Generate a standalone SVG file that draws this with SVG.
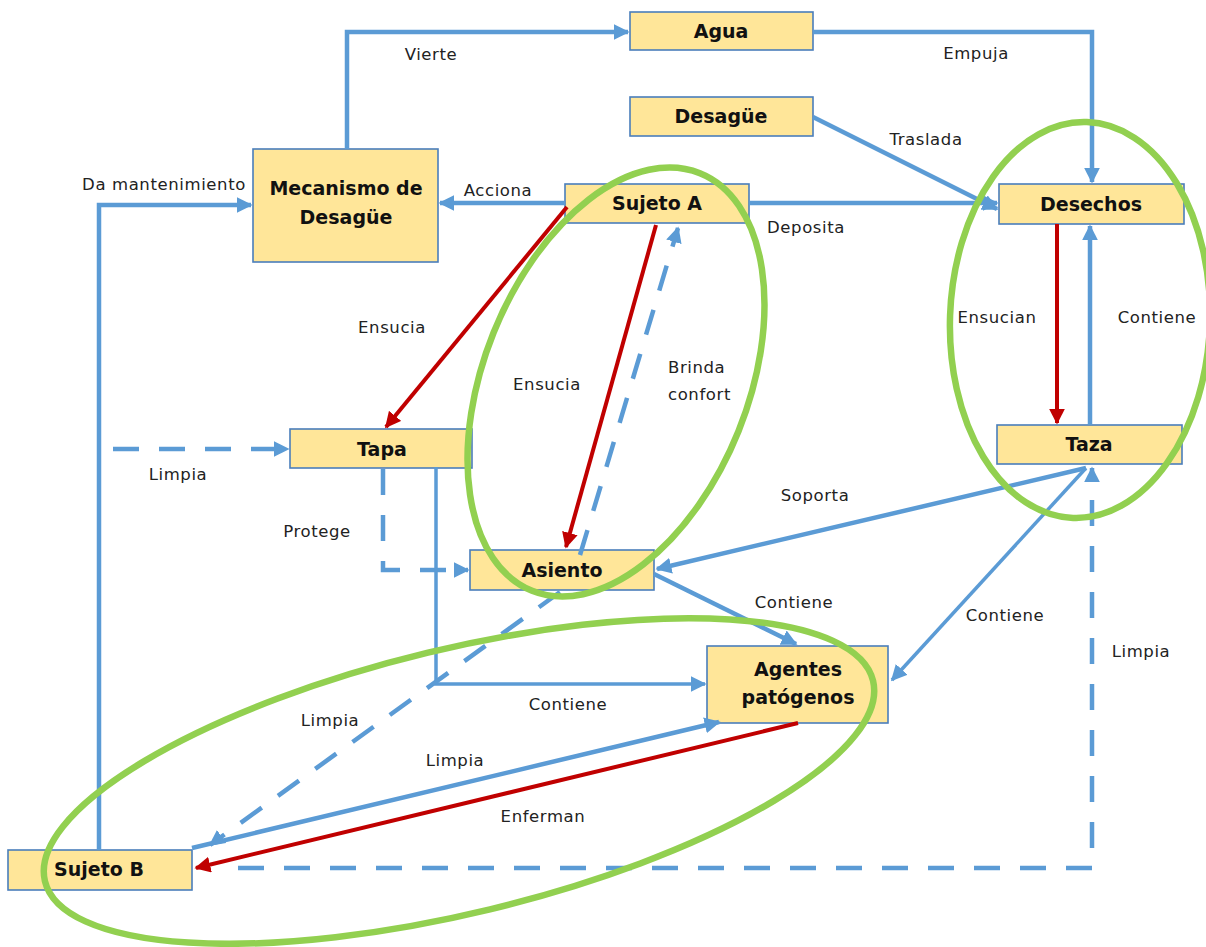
<svg xmlns="http://www.w3.org/2000/svg" width="1206" height="947" viewBox="0 0 1206 947">
<style>
.node rect{fill:#FFE699;stroke:#4A7EBB;stroke-width:1.6}
.nt{font-family:"DejaVu Sans","Liberation Sans",sans-serif;font-weight:bold;font-size:19px;fill:#111;text-anchor:middle}
.lb{font-family:"DejaVu Sans","Liberation Sans",sans-serif;font-size:16.5px;letter-spacing:0.6px;fill:#222;text-anchor:middle}
.ls{text-anchor:start}
.b{fill:none;stroke:#5B9BD5;stroke-width:4.5}
.bt{fill:none;stroke:#5B9BD5;stroke-width:3.5}
.d{fill:none;stroke:#5B9BD5;stroke-width:4.5;stroke-dasharray:26 20}
.r{fill:none;stroke:#C00000;stroke-width:4}
.g{fill:none;stroke:#92D050;stroke-width:6.5}
</style>
<defs>
<marker id="ab" viewBox="0 0 10 10" refX="9" refY="5" markerWidth="16" markerHeight="16" markerUnits="userSpaceOnUse" orient="auto"><path d="M0,0 L10,5 L0,10 z" fill="#5B9BD5"/></marker>
<marker id="ar" viewBox="0 0 10 10" refX="9" refY="5" markerWidth="16" markerHeight="16" markerUnits="userSpaceOnUse" orient="auto"><path d="M0,0 L10,5 L0,10 z" fill="#C00000"/></marker>
</defs>
<rect width="1206" height="947" fill="#FFFFFF"/>

<g id="nodes">
<g id="agua" class="node"><rect x="630" y="12" width="183" height="38"/><text class="nt" x="721" y="38">Agua</text></g>
<g id="desague" class="node"><rect x="630" y="97" width="183" height="39"/><text class="nt" x="721" y="123">Desagüe</text></g>
<g id="mecanismo" class="node"><rect x="253" y="149" width="185" height="113"/><text class="nt" x="346" y="195">Mecanismo de</text><text class="nt" x="346" y="224">Desagüe</text></g>
<g id="sujetoA" class="node"><rect x="565" y="184" width="184" height="39"/><text class="nt" x="657" y="210">Sujeto A</text></g>
<g id="desechos" class="node"><rect x="999" y="184" width="185" height="40"/><text class="nt" x="1091" y="211">Desechos</text></g>
<g id="tapa" class="node"><rect x="290" y="429" width="182" height="39"/><text class="nt" x="382" y="456">Tapa</text></g>
<g id="taza" class="node"><rect x="997" y="425" width="185" height="39"/><text class="nt" x="1089" y="451">Taza</text></g>
<g id="asiento" class="node"><rect x="470" y="550" width="184" height="40"/><text class="nt" x="562" y="577">Asiento</text></g>
<g id="agentes" class="node"><rect x="707" y="646" width="181" height="77"/><text class="nt" x="798" y="676">Agentes</text><text class="nt" x="798" y="704">patógenos</text></g>
<g id="sujetoB" class="node"><rect x="8" y="850" width="184" height="40"/><text class="nt" x="99" y="876">Sujeto B</text></g>
</g>

<g id="connectors">
<path class="b" d="M347,149 V32 H628" marker-end="url(#ab)"/>
<path class="b" d="M813,32 H1092 V182" marker-end="url(#ab)"/>
<path class="b" d="M813,117 L997,209" marker-end="url(#ab)"/>
<path class="b" d="M749,203 H997" marker-end="url(#ab)"/>
<path class="b" d="M565,203 H440" marker-end="url(#ab)"/>
<path class="b" d="M99,850 V205 H251" marker-end="url(#ab)"/>
<path class="r" d="M567,207 L386,427" marker-end="url(#ar)"/>
<path class="r" d="M656,225 L566,547" marker-end="url(#ar)"/>
<path class="d" d="M580,555 L678,228" marker-end="url(#ab)"/>
<path class="r" d="M1057,224 V423" marker-end="url(#ar)"/>
<path class="b" d="M1090,425 V226" marker-end="url(#ab)"/>
<path class="d" d="M113,449 H288" marker-end="url(#ab)"/>
<path class="d" d="M383,469 V570 H468" marker-end="url(#ab)"/>
<path class="bt" d="M436,467 V684 H705" marker-end="url(#ab)"/>
<path class="b" d="M1086,468 L657,569" marker-end="url(#ab)"/>
<path class="bt" d="M1086,468 L892,680" marker-end="url(#ab)"/>
<path class="b" d="M654,574 L796,644" marker-end="url(#ab)"/>
<path class="b" d="M192,848 L719,722" marker-end="url(#ab)"/>
<path class="r" d="M798,723 L196,868" marker-end="url(#ar)"/>
<path class="d" d="M560,592 L210,845" marker-end="url(#ab)"/>
<path class="d" d="M238,868 H1092 V468" marker-end="url(#ab)"/>
</g>

<g id="labels">
<text class="lb" x="431" y="60">Vierte</text>
<text class="lb" x="976" y="59">Empuja</text>
<text class="lb" x="926" y="145">Traslada</text>
<text class="lb" x="806" y="233">Deposita</text>
<text class="lb" x="498" y="196">Acciona</text>
<text class="lb" x="164" y="190">Da mantenimiento</text>
<text class="lb" x="392" y="333">Ensucia</text>
<text class="lb" x="547" y="390">Ensucia</text>
<text class="lb ls" x="668" y="373">Brinda</text>
<text class="lb ls" x="668" y="400">confort</text>
<text class="lb" x="997" y="323">Ensucian</text>
<text class="lb" x="1157" y="323">Contiene</text>
<text class="lb" x="178" y="480">Limpia</text>
<text class="lb" x="317" y="537">Protege</text>
<text class="lb" x="815" y="501">Soporta</text>
<text class="lb" x="794" y="608">Contiene</text>
<text class="lb" x="1005" y="621">Contiene</text>
<text class="lb" x="1141" y="657">Limpia</text>
<text class="lb" x="568" y="710">Contiene</text>
<text class="lb" x="330" y="726">Limpia</text>
<text class="lb" x="455" y="766">Limpia</text>
<text class="lb" x="543" y="822">Enferman</text>
</g>

<g id="highlights">
<ellipse class="g" cx="616" cy="382" rx="132" ry="225" transform="rotate(21.9 616 382)"/>
<ellipse class="g" cx="1080" cy="320" rx="130" ry="198" transform="rotate(2 1080 320)"/>
<ellipse class="g" cx="459" cy="781" rx="426" ry="132" transform="rotate(-13.6 459 781)"/>
</g>
</svg>
